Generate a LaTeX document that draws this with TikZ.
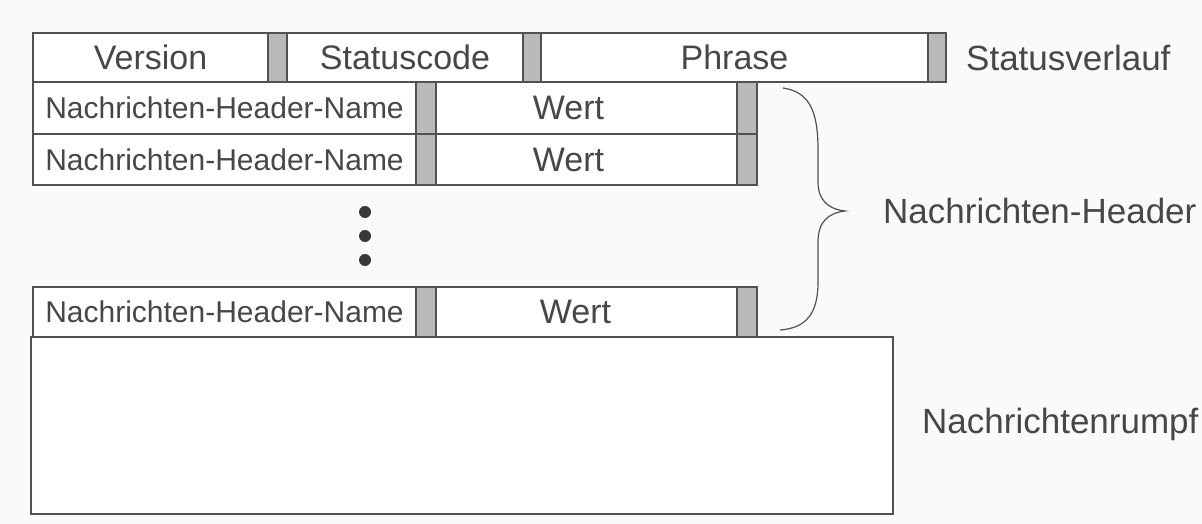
\documentclass[tikz,border=0pt]{standalone}
\usepackage{fontspec}
\setmainfont{Liberation Sans}
\begin{document}
\begin{tikzpicture}[x=1pt,y=-1pt,
  ink/.style={draw=black!68, line width=1.6pt},
  cell/.style={ink, fill=white, inner sep=0pt, outer sep=0pt, text=black!72},
  bar/.style={ink, fill=black!27, inner sep=0pt, outer sep=0pt},
  bigtxt/.style={font=\fontsize{34}{37}\selectfont, text=black!72},
  smalltxt/.style={font=\fontsize{30}{32}\selectfont, text=black!72},
  lbl/.style={font=\fontsize{35}{38}\selectfont, text=black!72, anchor=west, inner sep=0pt}]
\useasboundingbox[fill=blue!1!black!2] (0,0) rectangle (1202,524);

% status line
\node[cell, bigtxt, minimum width=235pt, minimum height=49pt] (ver) at (150.5,57.5) {Version};
\node[bar, minimum width=19pt, minimum height=49pt] (g1) at (277.5,57.5) {};
\node[cell, bigtxt, minimum width=236pt, minimum height=49pt] (stat) at (405,57.5) {Statuscode};
\node[bar, minimum width=18pt, minimum height=49pt] (g2) at (532,57.5) {};
\node[cell, bigtxt, minimum width=387pt, minimum height=49pt] (phr) at (734.5,57.5) {Phrase};
\node[bar, minimum width=18pt, minimum height=49pt] (g3) at (937,57.5) {};

% header lines
\foreach \r/\y/\h/\s in {a/108/52/-18, b/159.5/51/-18, c/312/50/-11} {
  \node[cell, smalltxt, minimum width=383pt, minimum height=\h pt] (name\r) at (224.5,\y) {Nachrichten-Header-Name};
  \node[bar, minimum width=20pt, minimum height=\h pt] (ga\r) at (426,\y) {};
  \node[cell, minimum width=301pt, minimum height=\h pt,
        label={[bigtxt, xshift=\s pt]center:Wert}] (wert\r) at (586.5,\y) {};
  \node[bar, minimum width=20pt, minimum height=\h pt] (gb\r) at (747,\y) {};
}

% ellipsis dots
\foreach \i/\y in {1/212, 2/236, 3/260}
  \node[circle, fill=black!78, inner sep=0pt, minimum size=12pt] (dot\i) at (365,\y) {};

% message body
\node[cell, minimum width=862pt, minimum height=177pt] (body) at (462,425.5) {};

% curly brace over the header lines
\coordinate (bt) at (783,88);
\coordinate (bm) at (845,211);
\coordinate (bb) at (780,330);
\draw[draw=black!68, line width=1.2pt]
  (bt) .. controls (810,92) and (818,112) .. (818,150)
  -- (818,182) .. controls (818,200) and (828,209) .. (bm)
  .. controls (828,213) and (818,222) .. (818,242)
  -- (818,282) .. controls (818,314) and (806,328) .. (bb);

% labels
\node[lbl] (lstat) at (966,58) {Statusverlauf};
\node[lbl] (lhead) at (883,211) {Nachrichten-Header};
\node[lbl] (lbody) at (922,424) {Nachrichtenrumpf};
\end{tikzpicture}
\end{document}
